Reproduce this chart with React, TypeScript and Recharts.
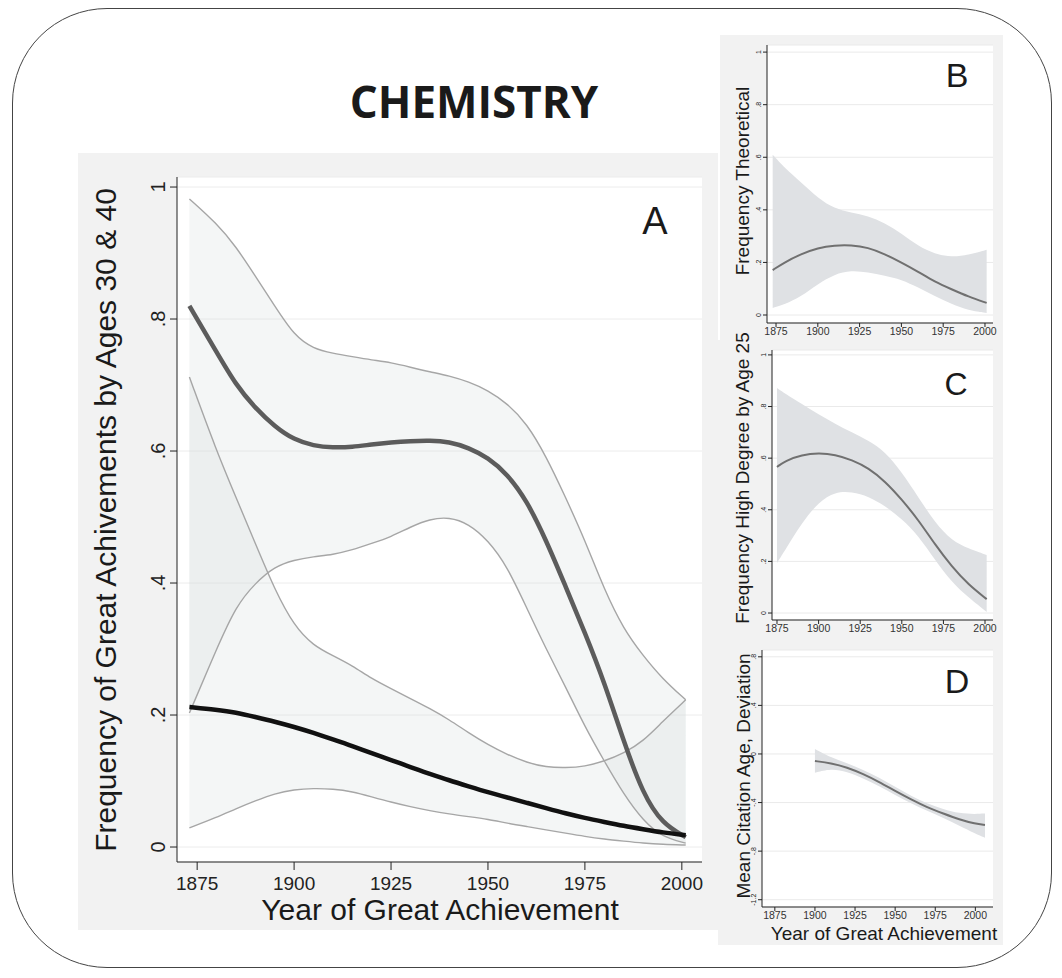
import React from "react";
import { ComposedChart, Area, Line, XAxis, YAxis, CartesianGrid } from "recharts";

// Panel A: frequency of great achievements by age 30 (black) and age 40 (gray)
const yearsA = [1873, 1880, 1885, 1890, 1895, 1900, 1905, 1910, 1915, 1920, 1925, 1930, 1935, 1940, 1945, 1950, 1955, 1960, 1965, 1970, 1975, 1980, 1985, 1990, 1995, 2001];
const age40 = [0.82, 0.75, 0.7, 0.665, 0.637, 0.617, 0.608, 0.605, 0.606, 0.61, 0.613, 0.615, 0.616, 0.614, 0.605, 0.59, 0.565, 0.525, 0.465, 0.395, 0.325, 0.25, 0.16, 0.08, 0.035, 0.015];
const age40Hi = [0.982, 0.945, 0.91, 0.865, 0.82, 0.775, 0.755, 0.748, 0.743, 0.738, 0.734, 0.727, 0.72, 0.714, 0.705, 0.692, 0.672, 0.642, 0.592, 0.53, 0.465, 0.39, 0.33, 0.29, 0.255, 0.223];
const age40Lo = [0.203, 0.3, 0.365, 0.4, 0.425, 0.435, 0.44, 0.443, 0.45, 0.46, 0.47, 0.485, 0.497, 0.5, 0.49, 0.465, 0.425, 0.362, 0.3, 0.243, 0.182, 0.13, 0.08, 0.04, 0.015, 0.006];
const age30 = [0.212, 0.208, 0.204, 0.197, 0.19, 0.182, 0.173, 0.163, 0.153, 0.142, 0.132, 0.121, 0.111, 0.101, 0.092, 0.083, 0.075, 0.067, 0.059, 0.051, 0.044, 0.038, 0.032, 0.027, 0.022, 0.018];
const age30Hi = [0.712, 0.6, 0.53, 0.46, 0.39, 0.335, 0.305, 0.29, 0.275, 0.255, 0.24, 0.225, 0.21, 0.193, 0.173, 0.155, 0.14, 0.128, 0.121, 0.12, 0.122, 0.13, 0.142, 0.16, 0.19, 0.223];
const age30Lo = [0.029, 0.045, 0.058, 0.07, 0.081, 0.087, 0.089, 0.088, 0.084, 0.076, 0.068, 0.061, 0.055, 0.05, 0.046, 0.042, 0.036, 0.031, 0.026, 0.021, 0.016, 0.012, 0.009, 0.006, 0.004, 0.003];

// Panel B: frequency theoretical
const yearsB = [1873, 1880, 1890, 1900, 1910, 1920, 1930, 1940, 1950, 1960, 1970, 1980, 1990, 2001];
const theo = [0.171, 0.2, 0.232, 0.255, 0.265, 0.266, 0.257, 0.232, 0.2, 0.165, 0.126, 0.098, 0.07, 0.046];
const theoHi = [0.61, 0.56, 0.505, 0.445, 0.405, 0.39, 0.377, 0.35, 0.31, 0.262, 0.232, 0.22, 0.228, 0.248];
const theoLo = [0.027, 0.04, 0.07, 0.118, 0.155, 0.17, 0.162, 0.15, 0.135, 0.105, 0.072, 0.042, 0.018, 0.008];

// Panel C: frequency high degree by age 25
const yearsC = [1875, 1880, 1890, 1900, 1910, 1920, 1930, 1940, 1950, 1960, 1970, 1980, 1990, 2001];
const degree = [0.566, 0.59, 0.613, 0.62, 0.614, 0.593, 0.562, 0.51, 0.44, 0.36, 0.265, 0.18, 0.11, 0.054];
const degreeHi = [0.872, 0.85, 0.81, 0.77, 0.733, 0.7, 0.668, 0.625, 0.545, 0.448, 0.35, 0.28, 0.25, 0.225];
const degreeLo = [0.194, 0.245, 0.35, 0.43, 0.47, 0.47, 0.452, 0.415, 0.365, 0.3, 0.205, 0.12, 0.06, 0.004];

// Panel D: mean citation age, deviation
const yearsD = [1900, 1910, 1920, 1930, 1940, 1950, 1960, 1970, 1980, 1990, 2000, 2006];
const cite = [-0.058, -0.076, -0.11, -0.165, -0.23, -0.305, -0.375, -0.44, -0.49, -0.54, -0.575, -0.585];
const citeHi = [0.04, -0.03, -0.075, -0.13, -0.195, -0.27, -0.345, -0.41, -0.455, -0.49, -0.495, -0.49];
const citeLo = [-0.155, -0.12, -0.145, -0.2, -0.265, -0.34, -0.405, -0.47, -0.525, -0.59, -0.655, -0.69];

const yearTicks = [1875, 1900, 1925, 1950, 1975, 2000];
const freqTicks = [0, 0.2, 0.4, 0.6, 0.8, 1];
const citeTicks = [-1.2, -0.8, -0.4, 0, 0.4, 0.8];

const dataA = yearsA.map((year, i) => ({
  year,
  age40: age40[i],
  age40Hi: age40Hi[i],
  age40Lo: age40Lo[i],
  band40: [age40Lo[i], age40Hi[i]],
  age30: age30[i],
  age30Hi: age30Hi[i],
  age30Lo: age30Lo[i],
  band30: [age30Lo[i], age30Hi[i]],
}));

const small = (years: number[], mid: number[], lo: number[], hi: number[]) =>
  years.map((year, i) => ({ year, mid: mid[i], band: [lo[i], hi[i]] }));

const dataB = small(yearsB, theo, theoLo, theoHi);
const dataC = small(yearsC, degree, degreeLo, degreeHi);
const dataD = small(yearsD, cite, citeLo, citeHi);

const FONT = "'Liberation Sans', Arial, sans-serif";

const fmt = (v: number) => {
  if (v === 0) return "0";
  const a = Math.abs(v);
  const s = a < 1 ? String(a).replace(/^0/, "") : String(a);
  return (v < 0 ? "-" : "") + s;
};

const rotTick = (fs: number) => (p: any) => (
  <text
    x={p.x}
    y={p.y}
    transform={`rotate(-90 ${p.x} ${p.y})`}
    textAnchor="middle"
    fontSize={fs}
    fill="#222"
    fontFamily={FONT}
  >
    {fmt(p.payload.value)}
  </text>
);

const Text = ({ x, y, size, rotate, children, weight, family }: any) => (
  <div
    style={{
      position: "absolute",
      left: x,
      top: y,
      transform: `translate(-50%, -50%)${rotate ? " rotate(-90deg)" : ""}`,
      whiteSpace: "nowrap",
      fontSize: size,
      fontFamily: family || FONT,
      fontWeight: weight || 400,
      color: "#1a1a1a",
      lineHeight: 1,
    }}
  >
    {children}
  </div>
);

const Panel = ({ left, top, width, height }: any) => (
  <div style={{ position: "absolute", left, top, width, height, background: "#f2f2f2" }} />
);

function SmallChart({ data, left, top, width, height, margin, yWidth, xHeight, xDomain, yDomain, yTicks }: any) {
  return (
    <div style={{ position: "absolute", left, top }}>
      <ComposedChart width={width} height={height} data={data} margin={margin}>
        <CartesianGrid vertical={false} stroke="#eaeaea" fill="#ffffff" />
        <XAxis
          type="number"
          dataKey="year"
          domain={xDomain}
          ticks={yearTicks}
          allowDataOverflow
          height={xHeight}
          tickSize={4}
          tickMargin={1}
          stroke="#222"
          tick={{ fontSize: 10.5, fill: "#333", fontFamily: FONT }}
        />
        <YAxis
          type="number"
          domain={yDomain}
          ticks={yTicks}
          allowDataOverflow
          width={yWidth}
          tickSize={4}
          tickMargin={2}
          stroke="#222"
          tick={rotTick(7)}
        />
        <Area dataKey="band" type="basis" stroke="none" fill="#dfe1e4" fillOpacity={1} isAnimationActive={false} />
        <Line dataKey="mid" type="basis" stroke="#707070" strokeWidth={2} dot={false} activeDot={false} isAnimationActive={false} />
      </ComposedChart>
    </div>
  );
}

export default function App() {
  return (
    <div style={{ position: "relative", width: 1062, height: 978, background: "#fff", overflow: "hidden" }}>
      <style>{"body{margin:0}"}</style>
      <div
        style={{
          position: "absolute",
          left: 12,
          top: 8,
          width: 1040,
          height: 960,
          border: "1.5px solid #444",
          borderRadius: 95,
          boxSizing: "border-box",
        }}
      />
      <Text x={474} y={101} size={44} weight={700} family="'Open Sans', sans-serif">CHEMISTRY</Text>

      <Panel left={78} top={153} width={640} height={777} />
      <Panel left={720} top={35} width={283} height={305} />
      <Panel left={718} top={340} width={285} height={305} />
      <Panel left={718} top={645} width={285} height={300} />

      <div style={{ position: "absolute", left: 78, top: 153 }}>
        <ComposedChart width={640} height={777} data={dataA} margin={{ top: 24, right: 16, bottom: 0, left: 0 }}>
          <CartesianGrid vertical={false} stroke="#ececec" fill="#ffffff" />
          <XAxis
            type="number"
            dataKey="year"
            domain={[1869.8, 2005.2]}
            ticks={yearTicks}
            allowDataOverflow
            height={68}
            tickSize={8}
            tickMargin={7}
            stroke="#222"
            tick={{ fontSize: 19, fill: "#222", fontFamily: FONT }}
          />
          <YAxis
            type="number"
            domain={[-0.0227, 1.0152]}
            ticks={freqTicks}
            allowDataOverflow
            width={99}
            tickSize={7}
            tickMargin={5}
            stroke="#222"
            tick={rotTick(20)}
          />
          <Area dataKey="band40" type="basis" stroke="none" fill="#d6dcdc" fillOpacity={0.27} isAnimationActive={false} />
          <Area dataKey="band30" type="basis" stroke="none" fill="#d6dcdc" fillOpacity={0.27} isAnimationActive={false} />
          <Line dataKey="age40Hi" type="basis" stroke="#a6a6a6" strokeWidth={1.4} dot={false} activeDot={false} isAnimationActive={false} />
          <Line dataKey="age40Lo" type="basis" stroke="#a6a6a6" strokeWidth={1.4} dot={false} activeDot={false} isAnimationActive={false} />
          <Line dataKey="age30Hi" type="basis" stroke="#a6a6a6" strokeWidth={1.4} dot={false} activeDot={false} isAnimationActive={false} />
          <Line dataKey="age30Lo" type="basis" stroke="#a6a6a6" strokeWidth={1.4} dot={false} activeDot={false} isAnimationActive={false} />
          <Line dataKey="age40" type="basis" stroke="#5c5c5c" strokeWidth={4.5} dot={false} activeDot={false} isAnimationActive={false} />
          <Line dataKey="age30" type="basis" stroke="#111111" strokeWidth={4.5} dot={false} activeDot={false} isAnimationActive={false} />
        </ComposedChart>
      </div>

      <SmallChart
        data={dataB}
        left={720}
        top={35}
        width={283}
        height={305}
        margin={{ top: 10, right: 10, bottom: 0, left: 0 }}
        yWidth={47}
        xHeight={17}
        xDomain={[1869.6, 2004.8]}
        yDomain={[-0.0304, 1.027]}
        yTicks={freqTicks}
      />
      <SmallChart
        data={dataC}
        left={718}
        top={340}
        width={285}
        height={305}
        margin={{ top: 10, right: 10, bottom: 0, left: 0 }}
        yWidth={54}
        xHeight={25}
        xDomain={[1872, 2004.8]}
        yDomain={[-0.027, 1.019]}
        yTicks={freqTicks}
      />
      <SmallChart
        data={dataD}
        left={718}
        top={645}
        width={285}
        height={300}
        margin={{ top: 5, right: 10, bottom: 0, left: 0 }}
        yWidth={44}
        xHeight={38}
        xDomain={[1867, 2011]}
        yDomain={[-1.26, 0.856]}
        yTicks={citeTicks}
      />

      <Text x={106} y={520} size={30} rotate>Frequency of Great Achivements by Ages 30 &amp; 40</Text>
      <Text x={440} y={910} size={30}>Year of Great Achievement</Text>
      <Text x={655} y={221} size={38}>A</Text>

      <Text x={742} y={181} size={19} rotate>Frequency Theoretical</Text>
      <Text x={957} y={75} size={34}>B</Text>
      <Text x={742} y={478} size={19} rotate>Frequency High Degree by Age 25</Text>
      <Text x={956} y={384} size={32}>C</Text>
      <Text x={743} y={776} size={19} rotate>Mean Citation Age, Deviation</Text>
      <Text x={957} y={681} size={34}>D</Text>
      <Text x={884} y={933} size={19}>Year of Great Achievement</Text>
    </div>
  );
}
